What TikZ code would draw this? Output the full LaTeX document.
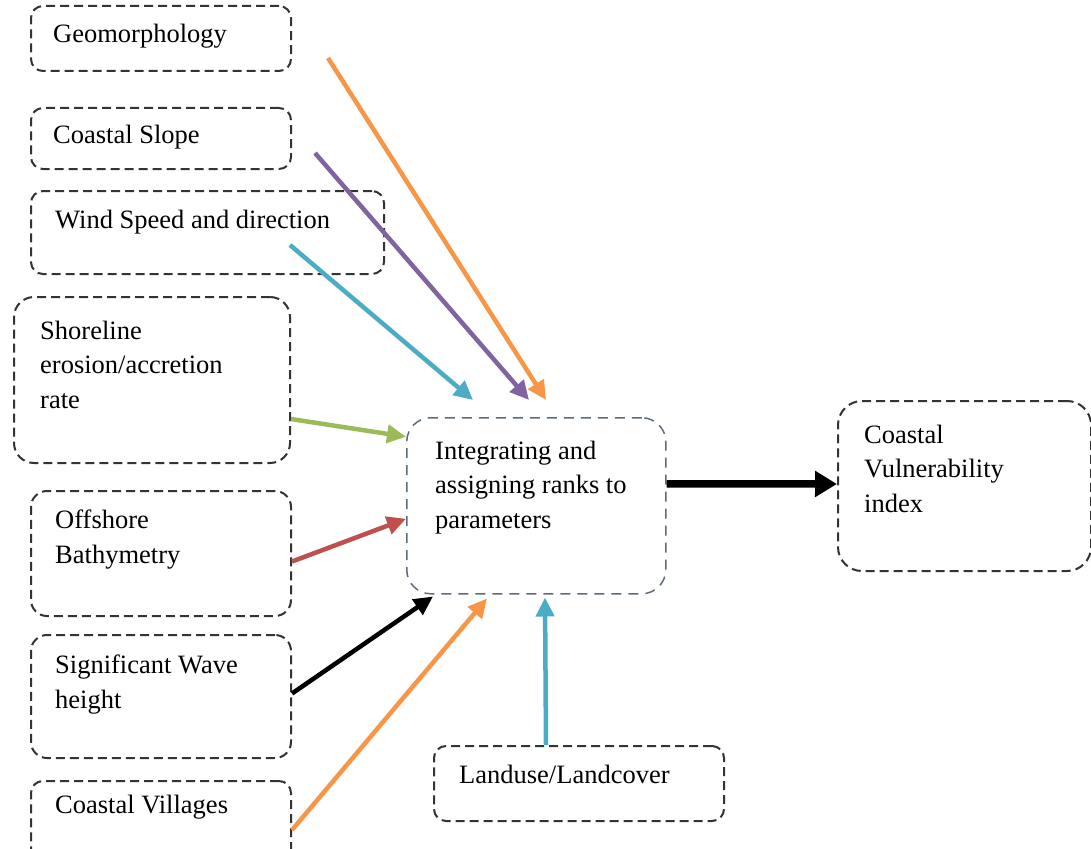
\documentclass[tikz,border=0pt]{standalone}
\usepackage{fontspec}
\setmainfont{Liberation Serif}
\usetikzlibrary{arrows.meta,calc}

\definecolor{cvorange}{HTML}{F79646}
\definecolor{cvpurple}{HTML}{8064A2}
\definecolor{cvteal}{HTML}{4BACC6}
\definecolor{cvgreen}{HTML}{9BBB59}
\definecolor{cvred}{HTML}{C0504D}
\definecolor{cvframe}{HTML}{5B6B80}

\tikzset{
  box/.style={draw=black!80, line width=2pt, dash pattern=on 9pt off 5pt,
    rounded corners=12pt, anchor=north west, inner sep=0pt},
  txt/.style={anchor=base west, align=left, inner sep=0pt,
    font=\fontsize{26.5}{34.5}\selectfont},
  feed/.style={line width=4.5pt, -{Triangle[length=19pt,width=18pt]}}
}

\begin{document}
\begin{tikzpicture}[x=1pt, y=-1pt]

\useasboundingbox (0,0) rectangle (1091,848);
\clip (0,0) rectangle (1091,848);

\node[box, minimum width=260pt, minimum height=65pt] (geo) at (30,5) {};
\node[box, minimum width=260pt, minimum height=61pt] (slope) at (30,107) {};
\node[box, minimum width=353pt, minimum height=83pt] (wind) at (30,190) {};
\node[box, minimum width=276pt, minimum height=166pt, rounded corners=20pt] (shore) at (13,296) {};
\node[box, minimum width=260pt, minimum height=125pt, rounded corners=16pt] (off) at (30,490) {};
\node[box, minimum width=260pt, minimum height=123pt, rounded corners=16pt] (wave) at (30,634) {};
\node[box, minimum width=260pt, minimum height=90pt] (vill) at (30,780) {};
\node[box, minimum width=290pt, minimum height=75pt] (land) at (433,745) {};
\node[box, draw=cvframe, line width=1.5pt, dash pattern=on 10pt off 7pt, minimum width=259pt,
  minimum height=176pt, rounded corners=24pt] (integ) at (406,417) {};
\node[box, minimum width=253pt, minimum height=170pt, rounded corners=24pt] (cvi) at (837,400) {};

\node[txt] (geo-t) at (53,43) {Geomorphology};
\node[txt] (slope-t) at (53,143) {Coastal Slope};
\node[txt] (wind-t) at (55,228) {Wind Speed and direction};
\node[txt] (shore-t) at (40,408) {Shoreline\\erosion/accretion\\rate};
\node[txt] (off-t) at (55,563) {Offshore\\Bathymetry};
\node[txt] (wave-t) at (55,708) {Significant Wave\\height};
\node[txt] (vill-t) at (55,813) {Coastal Villages};
\node[txt] (land-t) at (459,783) {Landuse/Landcover};
\node[txt] (integ-t) at (435,528) {Integrating and\\assigning ranks to\\parameters};
\node[txt] (cvi-t) at (864,512) {Coastal\\Vulnerability\\index};

\coordinate (geo-s) at (328,58);
\coordinate (slope-s) at (315,153);
\coordinate (wind-s) at (290,245);

\draw[feed, cvorange] (geo-s) -- ($(integ.north west)+(140,-17)$);
\draw[feed, cvpurple] (slope-s) -- ($(integ.north west)+(123,-17)$);
\draw[feed, cvteal] (wind-s) -- ($(integ.north west)+(67,-17)$);
\draw[feed, cvgreen] ($(shore.east)+(0,39)$) -- ($(integ.west)+(0,-69)$);
\draw[feed, cvred] ($(off.east)+(0,8)$) -- ($(integ.west)+(0,13)$);
\draw[feed, black] ($(wave.east)+(0,-3)$) -- ($(integ.south west)+(27,2)$);
\draw[feed, cvorange] ($(vill.east)+(0,4)$) -- ($(integ.south west)+(81,4)$);
\draw[feed, cvteal] ($(land.north)+(-33,0)$) -- ($(integ.south west)+(139,3)$);
\draw[line width=7.5pt, -{Triangle[length=22pt,width=25pt]}]
  ($(integ.east)+(0,-22)$) -- ($(cvi.west)+(0,-2)$);

\end{tikzpicture}
\end{document}
